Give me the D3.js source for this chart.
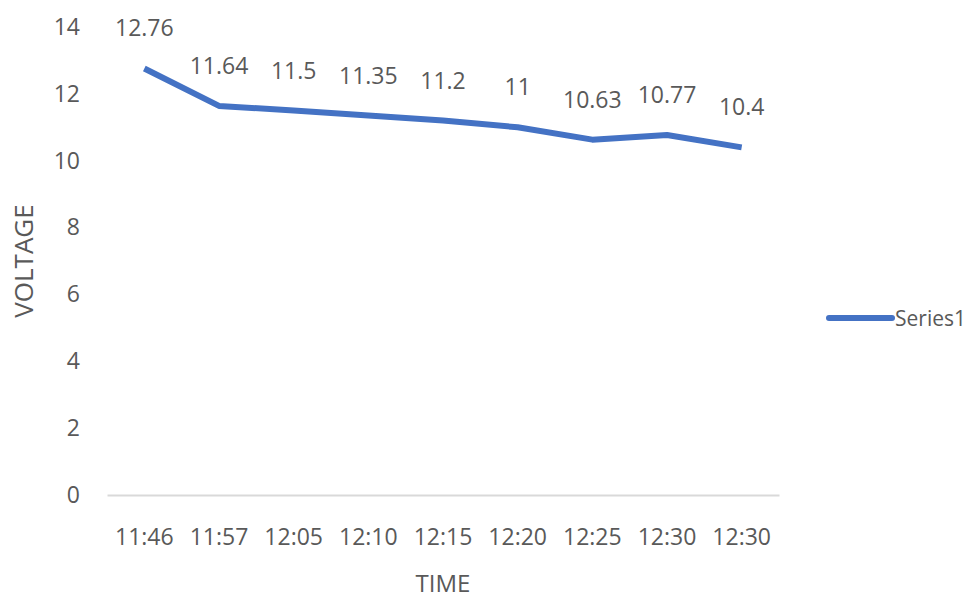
<!DOCTYPE html>
<html>
<head>
<meta charset="utf-8">
<script src="https://cdn.jsdelivr.net/npm/d3@7"></script>
<style>
  body { margin: 0; background: #fff; }
  text { font-family: "Open Sans", sans-serif; fill: #595959; }
</style>
</head>
<body>
<div id="chart"></div>
<script>
const times = ["11:46", "11:57", "12:05", "12:10", "12:15", "12:20", "12:25", "12:30", "12:30"]
const voltage = [12.76, 11.64, 11.5, 11.35, 11.2, 11, 10.63, 10.77, 10.4]
const yTicks = [0, 2, 4, 6, 8, 10, 12, 14]
const seriesName = "Series1"

const width = 979, height = 598
const margin = {top: 27, right: 200, bottom: 103, left: 107}
const plotW = 779 - margin.left
const plotH = 495 - margin.top

const data = voltage.map((v, i) => ({i: i, v: v}))

const svg = d3.select("#chart")
    .append("svg")
    .attr("width", width)
    .attr("height", height)

const g = svg.append("g")
    .attr("transform", `translate(${margin.left},${margin.top})`)

const x = d3.scaleBand().domain(times.map((t, i) => i)).range([0, plotW])
const y = d3.scaleLinear().domain([0, 14]).range([plotH, 0])

// bottom axis
const xAxis = g.append("g")
    .attr("transform", `translate(0,${plotH})`)
    .call(d3.axisBottom(x).tickSize(0).tickPadding(34).tickFormat(i => times[i]))
xAxis.select(".domain").attr("stroke", "#d9d9d9").attr("stroke-width", 2)
xAxis.selectAll("text").style("font-size", "23px").attr("fill", "#595959")

// left axis
const yAxis = g.append("g")
    .call(d3.axisLeft(y).tickValues(yTicks).tickSize(0).tickPadding(27))
yAxis.select(".domain").remove()
yAxis.selectAll("text").style("font-size", "23px").attr("fill", "#595959")

// the line
const line = d3.line()
    .x(d => x(d.i) + x.bandwidth() / 2)
    .y(d => y(d.v))

g.append("path")
    .datum(data)
    .attr("d", line)
    .attr("fill", "none")
    .attr("stroke", "#4472c4")
    .attr("stroke-width", 6)
    .attr("stroke-linejoin", "round")

// data labels
g.selectAll(".lbl")
    .data(data)
    .enter().append("text")
    .attr("class", "lbl")
    .attr("x", d => x(d.i) + x.bandwidth() / 2)
    .attr("y", d => y(d.v) - 41)
    .attr("text-anchor", "middle")
    .attr("dominant-baseline", "central")
    .style("font-size", "23px")
    .text(d => d.v)

// axis titles
svg.append("text")
    .attr("x", margin.left + plotW / 2)
    .attr("y", 582)
    .attr("text-anchor", "middle")
    .attr("dominant-baseline", "central")
    .style("font-size", "24px")
    .text("TIME")

svg.append("text")
    .attr("transform", `translate(23,${margin.top + plotH / 2}) rotate(-90)`)
    .attr("text-anchor", "middle")
    .attr("dominant-baseline", "central")
    .style("font-size", "26px")
    .text("VOLTAGE")

// legend
const legend = svg.append("g").attr("transform", "translate(829,318)")
legend.append("line")
    .attr("x1", 0).attr("x2", 63)
    .attr("stroke", "#4472c4")
    .attr("stroke-width", 6)
    .attr("stroke-linecap", "round")
legend.append("text")
    .attr("x", 66)
    .attr("dominant-baseline", "central")
    .style("font-size", "21px")
    .text(seriesName)
</script>
</body>
</html>
